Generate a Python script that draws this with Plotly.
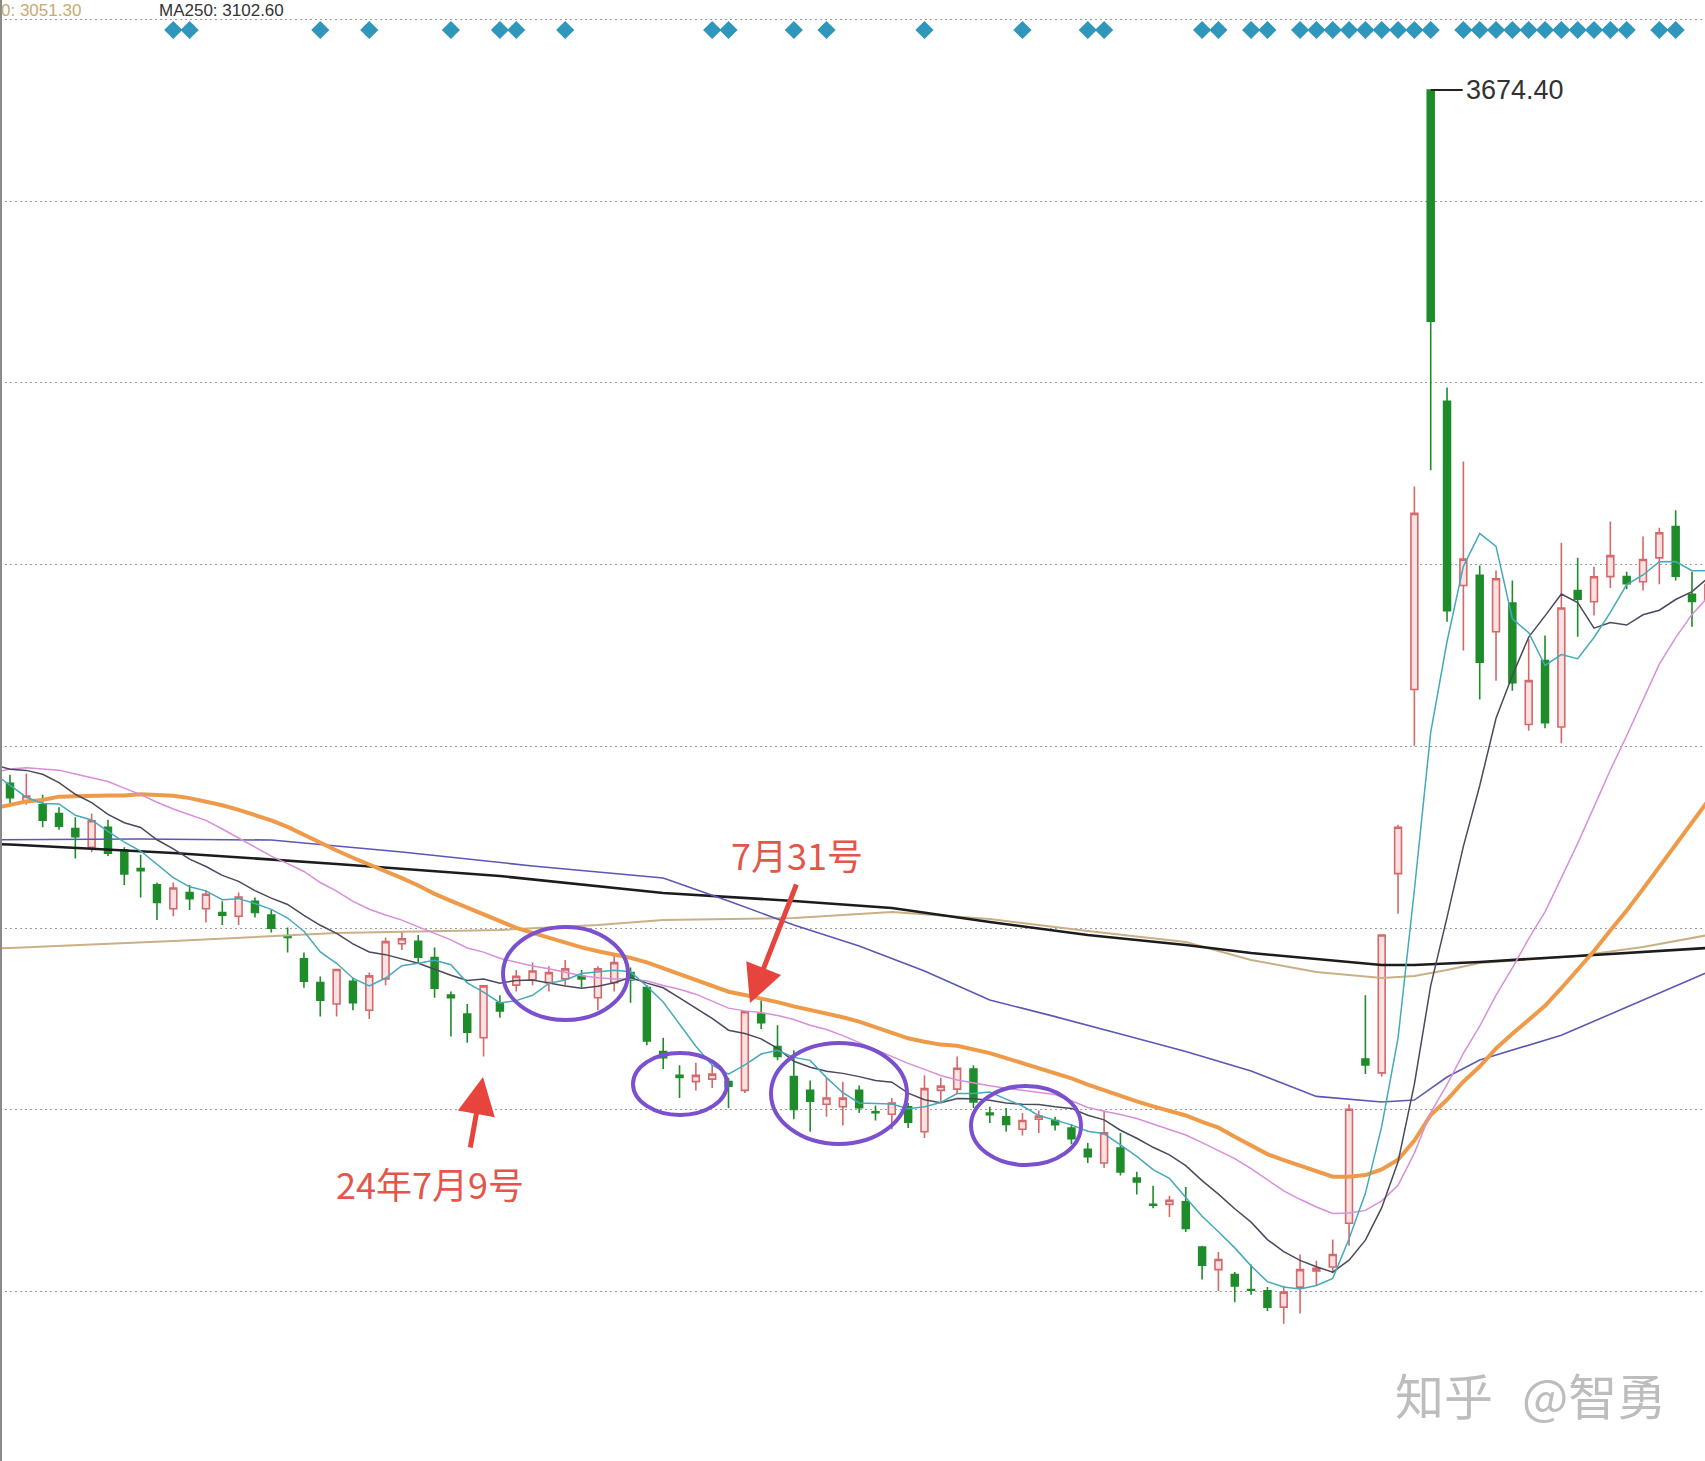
import plotly.graph_objects as go
import pandas as pd

# ---------------- data (Shanghai Composite daily) ----------------
dates = ["05-28","05-29","05-30","05-31","06-03","06-04","06-05","06-06","06-07","06-11",
         "06-12","06-13","06-14","06-17","06-18","06-19","06-20","06-21","06-24","06-25",
         "06-26","06-27","06-28","07-01","07-02","07-03","07-04","07-05","07-08","07-09",
         "07-10","07-11","07-12","07-15","07-16","07-17","07-18","07-19","07-22","07-23",
         "07-24","07-25","07-26","07-29","07-30","07-31","08-01","08-02","08-05","08-06",
         "08-07","08-08","08-09","08-12","08-13","08-14","08-15","08-16","08-19","08-20",
         "08-21","08-22","08-23","08-26","08-27","08-28","08-29","08-30","09-02","09-03",
         "09-04","09-05","09-06","09-09","09-10","09-11","09-12","09-13","09-18","09-19",
         "09-20","09-23","09-24","09-25","09-26","09-27","09-30","10-08","10-09","10-10",
         "10-11","10-14","10-15","10-16","10-17","10-18","10-21","10-22","10-23","10-24",
         "10-25","10-28","10-29","10-30","10-31"]

opens = [3121,3107,3104,3097,3085,3070,3086,3068,3053,3040,
         3021,3034,3021,3018,3015,3027,3016,2999,2981,2962,
         2945,2963,2940,2965,2993,2995,2982,2952,2937,2918,
         2946,2960,2964,2962,2965,2967,2950,2962,2970,2958,
         2907,2888,2883,2885,2883,2876,2937,2911,2887,2876,
         2865,2863,2876,2859,2857,2863,2843,2876,2877,2893,
         2858,2855,2845,2853,2852,2846,2829,2818,2830,2806,
         2785,2785,2787,2751,2733,2729,2717,2716,2703,2719,
         2732,2735,2770,2901,2890,3049,3196,3674.4,3426,3279,
         3287,3242,3265,3168,3219,3166,3275,3266,3286,3286,
         3282,3301,3326,3272,3268]
highs = [3128,3129,3112,3102,3094,3097,3092,3070,3064,3042,
         3042,3040,3036,3027,3034,3030,3020,3006,2986,2967,
         2973,2966,2970,2998,3003,3000,2990,2955,2945,2960,
         2952,2972,2978,2975,2980,2972,2975,2985,2974,2960,
         2918,2896,2898,2896,2886,2939,2948,2928,2908,2884,
         2886,2883,2880,2864,2870,2866,2888,2886,2903,2896,
         2863,2862,2858,2860,2855,2849,2834,2860,2842,2811,
         2800,2792,2799,2752,2747,2731,2737,2719,2720,2745,
         2740,2757,2865,2952,3000.5,3088,3358,3674.4,3437,3378,
         3295,3291,3283,3236,3239,3313,3301,3294,3330,3290,
         3318,3325,3339,3290,3295]
lows = [3105,3104,3086,3084,3061,3066,3063,3040,3030,3012,
        3015,3020,3010,3008,3008,3014,3002,2986,2958,2935,
        2935,2940,2933,2960,2988,2977,2950,2919,2914,2903,
        2934,2955,2960,2955,2960,2958,2940,2955,2946,2912,
        2893,2870,2876,2878,2862,2874,2925,2900,2853,2843,
        2855,2848,2858,2852,2845,2846,2838,2866,2873,2862,
        2850,2843,2840,2842,2844,2833,2818,2814,2808,2793,
        2782,2775,2763,2725,2716,2707,2713,2700,2689.7,2698,
        2720,2730,2752,2889,2887,3017,3151,3371,3250,3227,
        3188,3203,3195,3163,3165,3153,3238,3255,3277,3276,
        3275,3280,3283,3246,3255]
closes = [3109.6,3111.0,3091.7,3086.8,3078.5,3091.2,3065.4,3048.8,3051.3,3026.0,
          3037.5,3028.9,3032.6,3015.9,3030.3,3018.1,3005.4,2998.1,2963.1,2948.0,
          2972.5,2945.9,2967.4,2994.7,2997.0,2982.4,2957.6,2949.9,2922.5,2959.4,
          2939.4,2967.0,2971.3,2970.0,2973.0,2965.0,2973.0,2978.0,2964.2,2915.4,
          2902.0,2886.4,2888.0,2889.0,2879.3,2938.8,2930.0,2903.0,2860.7,2867.3,
          2869.9,2869.8,2862.2,2858.2,2866.0,2850.7,2877.4,2879.4,2893.7,2866.7,
          2856.6,2848.8,2852.0,2855.5,2848.7,2837.4,2823.1,2842.2,2811.0,2803.0,
          2784.3,2788.3,2765.8,2736.5,2741.0,2720.0,2716.5,2703.0,2715.0,2733.0,
          2734.0,2745.0,2861.0,2896.3,3000.0,3086.0,3336.5,3489.8,3258.9,3300.0,
          3217.7,3284.3,3201.3,3203.0,3169.4,3261.0,3268.1,3285.9,3302.8,3280.3,
          3299.7,3321.0,3286.4,3266.2,3279.8]

# closes before the first visible candle (needed for the short moving averages)
prior_closes = [3034.3,3019.5,3057.4,3007.1,3071.4,3074.2,3065.3,3044.6,3022.0,3044.8,
                3052.9,3088.6,3113.0,3104.8,3140.7,3147.7,3128.5,3154.3,3154.6,3148.0,
                3145.8,3119.9,3122.4,3154.0,3171.2,3158.0,3158.5,3116.4,3088.9,3124.0]

# signal markers (candle indices)
signal_idx = [10, 11, 19, 22, 27, 30, 31, 34, 43, 44, 48, 50, 56, 62, 66, 67, 73, 74, 76, 77,
              79, 80, 81, 82, 83, 84, 85, 86, 87,
              89, 90, 91, 92, 93, 94, 95, 96, 97, 98, 99, 101, 102]

# long moving averages at sample candles
ma60_idx = [-1, 0, 8, 16, 24, 32, 40, 44, 48, 52, 56, 60, 64, 68, 72, 76, 80, 84, 86, 88, 90, 95, 100, 104]
ma60_val = [3076, 3076, 3076.6, 3075.8, 3066.3, 3055.1, 3045.5, 3027.2, 3008.0, 2991.2, 2971.3, 2948.1,
            2934.9, 2921.0, 2907.0, 2891.5, 2871.2, 2866.7, 2868.3, 2886.7, 2900.3, 2920.0, 2948.0, 2970.5]
ma120_idx = [-1, 0, 10, 20, 30, 36, 40, 48, 54, 60, 66, 72, 76, 80, 84, 86, 88, 90, 96, 100, 104]
ma120_val = [2989.3, 2989.7, 2995.2, 3001.6, 3004.0, 3008.0, 3012.0, 3013.6, 3018.4, 3012.8, 3003.2,
             2994.4, 2980.1, 2970.5, 2965.7, 2967.3, 2972.1, 2977.7, 2983.3, 2990.4, 3000.0]
ma250_idx = [-1, 0, 10, 20, 30, 40, 48, 54, 60, 66, 72, 76, 80, 84, 86, 90, 96, 100, 104]
ma250_val = [3072.6, 3072.3, 3065.5, 3056.7, 3047.1, 3033.5, 3027.2, 3021.6, 3010.4, 3000.0, 2992.0,
             2985.6, 2980.9, 2976.1, 2976.1, 2978.5, 2983.3, 2986.5, 2989.7]

grid_levels = [2715.5, 2860.5, 3005.5, 3150.5, 3295.6, 3440.6, 3585.6, 3730.6]
peak_label = "3674.40"

# ---------------- figure geometry ----------------
W, H = 1705, 1461
X0_PX, DX_PX = 10.0, 16.33            # pixel of candle 0, pixels per candle
Y_TOP, Y_BOT = 3746.23, 2580.23        # price at top / bottom edge


def px(x):
    return x / W


def py(y):
    return 1 - y / H


n = len(closes)
idx = list(range(n))

all_close = pd.Series(prior_closes + closes)
k = len(prior_closes)
ma_idx = list(range(-1, n))


def ma(p):
    s = all_close.rolling(p).mean()
    return list(s.iloc[k - 1:])


fig = go.Figure()

# long averages
fig.add_trace(go.Scatter(x=ma120_idx, y=ma120_val, mode="lines", line=dict(color="#C9B086", width=2), name="MA120"))
fig.add_trace(go.Scatter(x=ma250_idx, y=ma250_val, mode="lines", line=dict(color="#1c1c1c", width=2.6), name="MA250"))
fig.add_trace(go.Scatter(x=ma60_idx, y=ma60_val, mode="lines", line=dict(color="#5A58B4", width=1.6), name="MA60"))

fig.add_trace(go.Candlestick(
    x=idx, open=opens, high=highs, low=lows, close=closes, name="K",
    increasing=dict(line=dict(color="#D4686A", width=1.6), fillcolor="#FBE1E1"),
    decreasing=dict(line=dict(color="#1F8C2A", width=1.6), fillcolor="#1F8C2A"),
    whiskerwidth=0,
))

fig.add_trace(go.Scatter(x=ma_idx, y=ma(30), mode="lines", line=dict(color="#EF9A48", width=4), name="MA30"))
fig.add_trace(go.Scatter(x=ma_idx, y=ma(20), mode="lines", line=dict(color="#D98ED9", width=1.5), name="MA20"))
fig.add_trace(go.Scatter(x=ma_idx, y=ma(10), mode="lines", line=dict(color="#4A4A5C", width=1.5), name="MA10"))
fig.add_trace(go.Scatter(x=ma_idx, y=ma(5), mode="lines", line=dict(color="#45A9BC", width=1.5), name="MA5"))

# signal diamonds along the top
fig.add_trace(go.Scatter(x=signal_idx, y=[py(30)] * len(signal_idx), yaxis="y2", mode="markers",
                         marker=dict(symbol="diamond", size=14, color="#2F96BC"), name="signal"))

fig.update_layout(
    width=W, height=H, margin=dict(l=0, r=0, t=0, b=0),
    paper_bgcolor="white", plot_bgcolor="white", showlegend=False, boxgap=0.4,
    xaxis=dict(range=[-X0_PX / DX_PX, (W - X0_PX) / DX_PX], visible=False,
               rangeslider=dict(visible=False), fixedrange=True),
    yaxis=dict(range=[Y_BOT, Y_TOP], tickvals=grid_levels, showticklabels=False,
               showgrid=True, gridcolor="#9c9c9c", gridwidth=1.4, griddash="2px,3px",
               zeroline=False, showline=False, ticks=""),
    yaxis2=dict(range=[0, 1], overlaying="y", visible=False),
    hovermode=False,
)

shapes = []
# left border
shapes.append(dict(type="line", xref="paper", yref="paper", x0=px(1), x1=px(1), y0=0, y1=1,
                   line=dict(color="#8a8a8a", width=2)))
# purple ellipses
for (x0, x1, y0, y1) in [(503, 628, 927, 1020), (633, 727, 1053, 1115),
                         (771, 907, 1043, 1144), (971, 1081, 1086, 1165)]:
    shapes.append(dict(type="circle", xref="paper", yref="paper",
                       x0=px(x0), x1=px(x1), y0=py(y1), y1=py(y0),
                       line=dict(color="#7B50CE", width=4)))
# leader line for the peak label
shapes.append(dict(type="line", xref="x", yref="y", x0=87, x1=87 + 32 / DX_PX,
                   y0=highs[87], y1=highs[87], line=dict(color="#222", width=2)))
fig.update_layout(shapes=shapes)

ann = []
ann.append(dict(xref="x", yref="y", x=87 + 33 / DX_PX, y=highs[87], text=peak_label, showarrow=False,
                xanchor="left", yanchor="middle",
                font=dict(family="Liberation Sans, Arial", size=27, color="#333")))
# red arrows
ann.append(dict(xref="paper", yref="paper", x=px(483), y=py(1077), ax=-13, ay=72, text="",
                showarrow=True, arrowhead=2, arrowsize=1.5, arrowwidth=5, arrowcolor="#E6443C"))
ann.append(dict(xref="paper", yref="paper", x=px(750), y=py(1003), ax=47, ay=-120, text="",
                showarrow=True, arrowhead=2, arrowsize=1.5, arrowwidth=5, arrowcolor="#E6443C"))
cjk = "Noto Sans CJK SC"
ann.append(dict(xref="paper", yref="paper", x=px(430), y=py(1183), text="24年7月9号", showarrow=False,
                xanchor="center", yanchor="middle", font=dict(family=cjk, size=36, color="#E4554A")))
ann.append(dict(xref="paper", yref="paper", x=px(797), y=py(854), text="7月31号", showarrow=False,
                xanchor="center", yanchor="middle", font=dict(family=cjk, size=36, color="#E4554A")))
# watermark
ann.append(dict(xref="paper", yref="paper", x=px(1393), y=py(1393), text="知乎", showarrow=False,
                xanchor="left", yanchor="middle", font=dict(family=cjk, size=49, color="#BDBDBD")))
ann.append(dict(xref="paper", yref="paper", x=px(1520), y=py(1393), text="@智勇", showarrow=False,
                xanchor="left", yanchor="middle", font=dict(family=cjk, size=49, color="#BDBDBD")))
# top legend text
ann.append(dict(xref="paper", yref="paper", x=px(0), y=py(0), text="0: 3051.30", showarrow=False,
                xanchor="left", yanchor="top", borderpad=0,
                font=dict(family="Liberation Sans, Arial", size=17, color="#C8AA70")))
ann.append(dict(xref="paper", yref="paper", x=px(158), y=py(0), text="MA250: 3102.60", showarrow=False,
                xanchor="left", yanchor="top", borderpad=0,
                font=dict(family="Liberation Sans, Arial", size=17, color="#333")))
fig.update_layout(annotations=ann)

fig.write_html("out.html", config={"displayModeBar": False},
               post_script="document.body.style.margin='0';")
